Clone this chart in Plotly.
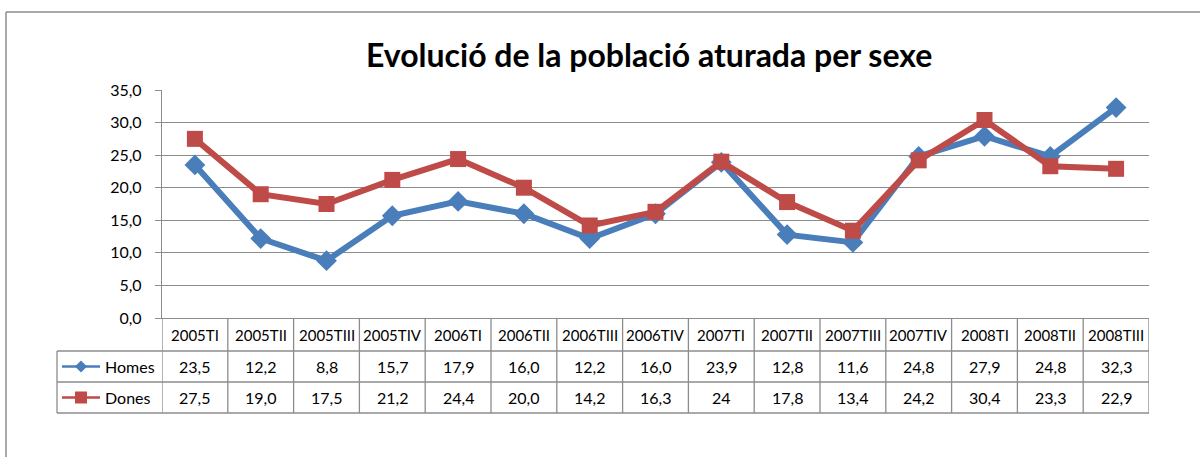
import plotly.graph_objects as go

# ---- data ----
categories = ["2005TI", "2005TII", "2005TIII", "2005TIV", "2006TI", "2006TII", "2006TIII",
              "2006TIV", "2007TI", "2007TII", "2007TIII", "2007TIV", "2008TI", "2008TII", "2008TIII"]
homes = [23.5, 12.2, 8.8, 15.7, 17.9, 16.0, 12.2, 16.0, 23.9, 12.8, 11.6, 24.8, 27.9, 24.8, 32.3]
dones = [27.5, 19.0, 17.5, 21.2, 24.4, 20.0, 14.2, 16.3, 24.0, 17.8, 13.4, 24.2, 30.4, 23.3, 22.9]
homes_text = ["23,5", "12,2", "8,8", "15,7", "17,9", "16,0", "12,2", "16,0", "23,9", "12,8",
              "11,6", "24,8", "27,9", "24,8", "32,3"]
dones_text = ["27,5", "19,0", "17,5", "21,2", "24,4", "20,0", "14,2", "16,3", "24", "17,8",
              "13,4", "24,2", "30,4", "23,3", "22,9"]
series_names = ["Homes", "Dones"]
title = "Evolució de la població aturada per sexe"

# ---- layout constants (pixels) ----
W, H = 1200, 457
PL, PR, PT, PB = 162, 1149, 90, 318
ROW_CAT, ROW_H, ROW_D, TB = 318, 351, 382, 413
LEG_L = 57

def px(x):
    return x / W

def py(y):
    return 1 - y / H

BLUE = "#4A7EBB"
RED = "#BE4B48"
GRID = "#8C8C8C"
FONT = "Lato"

fig = go.Figure()
fig.add_trace(go.Scatter(x=categories, y=homes, name=series_names[0], mode="lines+markers",
                         line=dict(color=BLUE, width=6),
                         marker=dict(symbol="diamond", size=16, color=BLUE)))
fig.add_trace(go.Scatter(x=categories, y=dones, name=series_names[1], mode="lines+markers",
                         line=dict(color=RED, width=6),
                         marker=dict(symbol="square", size=16, color=RED)))

shapes = []
line_style = dict(color=GRID, width=1.3)
n = len(categories)
for i in range(n + 1):
    shapes.append(dict(type="line", xref="x", yref="paper", x0=i - 0.5, x1=i - 0.5,
                       y0=py(ROW_CAT), y1=py(TB), line=line_style))
for yy in (ROW_H, ROW_D, TB):
    shapes.append(dict(type="line", xref="paper", yref="paper", x0=px(LEG_L), x1=px(PR),
                       y0=py(yy), y1=py(yy), line=line_style))
shapes.append(dict(type="line", xref="paper", yref="paper", x0=px(LEG_L), x1=px(LEG_L),
                   y0=py(ROW_H), y1=py(TB), line=line_style))
shapes.append(dict(type="line", xref="paper", yref="paper", x0=px(6), x1=1.0,
                   y0=py(12), y1=py(12), line=dict(color=GRID, width=1.5)))
shapes.append(dict(type="line", xref="paper", yref="paper", x0=px(6), x1=px(6),
                   y0=py(12), y1=0, line=dict(color=GRID, width=1.5)))

annotations = []
annotations.append(dict(text="<b>" + title + "</b>", xref="paper", yref="paper",
                        x=px(649), y=py(54), xanchor="center", yanchor="middle",
                        showarrow=False, font=dict(family=FONT, size=32, color="#000000")))
for i, c in enumerate(categories):
    annotations.append(dict(text=c, xref="x", yref="paper", x=i, y=py((ROW_CAT + ROW_H) / 2),
                            showarrow=False, xanchor="center", yanchor="middle",
                            font=dict(family=FONT, size=15, color="#000000")))
    annotations.append(dict(text=homes_text[i], xref="x", yref="paper", x=i,
                            y=py((ROW_H + ROW_D) / 2), showarrow=False, xanchor="center",
                            yanchor="middle", font=dict(family=FONT, size=16, color="#000000")))
    annotations.append(dict(text=dones_text[i], xref="x", yref="paper", x=i,
                            y=py((ROW_D + TB) / 2), showarrow=False, xanchor="center",
                            yanchor="middle", font=dict(family=FONT, size=16, color="#000000")))

for name, color, sym, yc in ((series_names[0], BLUE, "diamond", (ROW_H + ROW_D) / 2),
                             (series_names[1], RED, "square", (ROW_D + TB) / 2)):
    shapes.append(dict(type="line", xref="paper", yref="paper", x0=px(62), x1=px(100),
                       y0=py(yc), y1=py(yc), line=dict(color=color, width=2.5)))
    cx, s = 81, 6
    if sym == "diamond":
        path = f"M {px(cx)} {py(yc - s)} L {px(cx + s)} {py(yc)} L {px(cx)} {py(yc + s)} L {px(cx - s)} {py(yc)} Z"
    else:
        path = f"M {px(cx - s)} {py(yc - s)} L {px(cx + s)} {py(yc - s)} L {px(cx + s)} {py(yc + s)} L {px(cx - s)} {py(yc + s)} Z"
    shapes.append(dict(type="path", xref="paper", yref="paper", path=path,
                       fillcolor=color, line=dict(color=color, width=0)))
    annotations.append(dict(text=name, xref="paper", yref="paper", x=px(103), y=py(yc),
                            xanchor="left", yanchor="middle", showarrow=False,
                            font=dict(family=FONT, size=16, color="#000000")))

fig.update_layout(
    width=W, height=H, autosize=False,
    margin=dict(l=0, r=0, t=0, b=0, pad=0, autoexpand=False),
    paper_bgcolor="white", plot_bgcolor="white",
    separators=",.",
    showlegend=False,
    font=dict(family=FONT, size=16, color="#000000"),
    xaxis=dict(domain=[px(PL), px(PR)], type="category", range=[-0.5, n - 0.5],
               showticklabels=False, showgrid=False, zeroline=False, automargin=False,
               showline=True, linecolor=GRID, linewidth=1.3, ticks=""),
    yaxis=dict(domain=[py(PB), py(PT)], range=[0, 35], dtick=5, tick0=0, tickformat=".1f",
               showgrid=True, gridcolor=GRID, gridwidth=1.3, zeroline=False, automargin=False,
               showline=True, linecolor=GRID, linewidth=1.3,
               ticks="outside", ticklen=6, tickcolor=GRID, ticklabelstandoff=10,
               tickfont=dict(family=FONT, size=16, color="#000000")),
    shapes=shapes,
    annotations=annotations,
)

fig.write_html("out.html", config={"displayModeBar": False},
               post_script="document.body.style.margin='0';")
